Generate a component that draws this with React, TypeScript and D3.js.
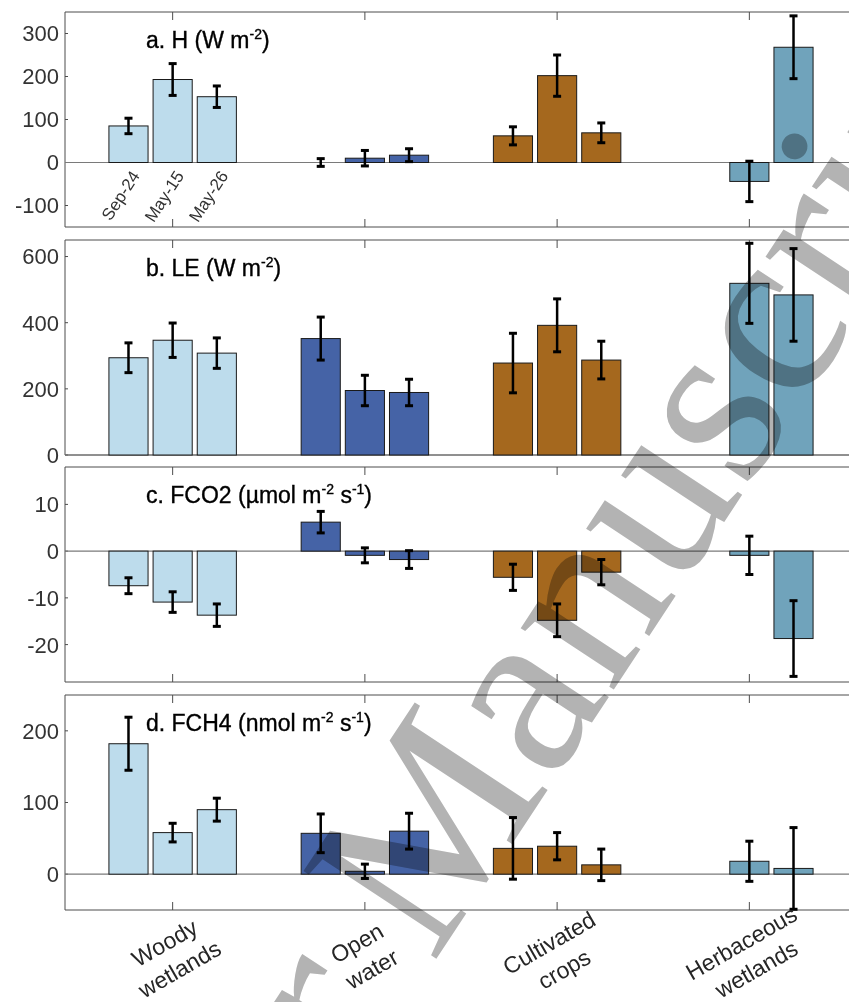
import React from "react";
import * as d3 from "d3";

// land covers (x groups) and sampling dates (bars inside a group)
const landCovers = ["Woody wetlands", "Open water", "Cultivated crops", "Herbaceous wetlands"];
const coverLines = [["Woody", "wetlands"], ["Open", "water"], ["Cultivated", "crops"], ["Herbaceous", "wetlands"]];
const dates = ["Sep-24", "May-15", "May-26"];
const coverColors = ["#bddcec", "#4563a6", "#a5681e", "#70a3bb"];

// a. H (W m-2), mean and error per land cover x date (null = no flight)
const hMean = [[85, 193, 153], [0, 10, 17], [62, 202, 69], [null, -44, 268]];
const hErr = [[18, 37, 25], [9, 18, 15], [21, 48, 23], [null, 47, 73]];
// b. LE (W m-2)
const leMean = [[294, 347, 308], [352, 195, 189], [278, 392, 287], [null, 519, 484]];
const leErr = [[45, 52, 46], [65, 46, 40], [90, 80, 57], [null, 121, 140]];
// c. FCO2 (umol m-2 s-1)
const co2Mean = [[-7.4, -10.9, -13.7], [6.2, -0.9, -1.8], [-5.6, -14.8, -4.5], [null, -0.9, -18.7]];
const co2Err = [[1.7, 2.2, 2.4], [2.3, 1.6, 1.9], [2.8, 3.5, 2.7], [null, 4.1, 8.1]];
// d. FCH4 (nmol m-2 s-1)
const ch4Mean = [[182, 58, 90], [57, 4, 60], [36, 39, 13], [null, 18, 8]];
const ch4Err = [[37, 13, 16], [27, 10, 25], [43, 19, 22], [null, 28, 57]];

const yTicksA = [-100, 0, 100, 200, 300];
const yTicksB = [0, 200, 400, 600];
const yTicksC = [-20, -10, 0, 10];
const yTicksD = [0, 100, 200];

const panels = [
  { main: "a. H (W m", sups: [["-2", ")"]], domain: [-150, 350], ticks: yTicksA, mean: hMean, err: hErr },
  { main: "b. LE (W m", sups: [["-2", ")"]], domain: [0, 650], ticks: yTicksB, mean: leMean, err: leErr },
  { main: "c. FCO2 (\u00b5mol m", sups: [["-2", " s"], ["-1", ")"]], domain: [-28, 18], ticks: yTicksC, mean: co2Mean, err: co2Err },
  { main: "d. FCH4 (nmol m", sups: [["-2", " s"], ["-1", ")"]], domain: [-50, 250], ticks: yTicksD, mean: ch4Mean, err: ch4Err },
];

const W = 849;
const H = 1002;
const left = 65;
const right = 857;
const panelTops = [12, 240, 467, 695];
const panelH = 215;
const font = "'Liberation Sans', Arial, Helvetica, sans-serif";
const axisColor = "#4d4d4d";

const x = d3.scaleLinear().domain([0.44, 4.56]).range([left, right]);
const offset = d3.scaleBand().domain(dates).range([-0.3315, 0.3315]).paddingInner(0.114);

function Panel({ p, i }) {
  const top = panelTops[i];
  const y = d3.scaleLinear().domain(p.domain).range([top + panelH, top]);
  const bw = x(offset.bandwidth()) - x(0);
  const cap = 4;
  return (
    <g>
      {/* axes box */}
      <line x1={left} x2={W} y1={top} y2={top} stroke={axisColor} strokeWidth={1} />
      <line x1={left} x2={W} y1={top + panelH} y2={top + panelH} stroke={axisColor} strokeWidth={1} />
      <line x1={left} x2={left} y1={top} y2={top + panelH} stroke={axisColor} strokeWidth={1} />
      {landCovers.map((c, k) => (
        <g key={c}>
          <line x1={x(k + 1)} x2={x(k + 1)} y1={top} y2={top + 8} stroke={axisColor} />
          <line x1={x(k + 1)} x2={x(k + 1)} y1={top + panelH} y2={top + panelH - 8} stroke={axisColor} />
        </g>
      ))}
      {p.ticks.map((t) => (
        <g key={t}>
          <line x1={left} x2={left + 3} y1={y(t)} y2={y(t)} stroke={axisColor} />
          <text x={59} y={y(t)} dy="0.36em" textAnchor="end" fontSize={22} fill="#333" fontFamily={font}>
            {t}
          </text>
        </g>
      ))}
      {/* zero line */}
      <line x1={left} x2={W} y1={y(0)} y2={y(0)} stroke="#7a7a7a" strokeWidth={1.2} />
      {/* bars */}
      {p.mean.map((row, k) =>
        row.map((v, j) => {
          if (v === null) return null;
          const cx = x(k + 1 + offset(dates[j]) + offset.bandwidth() / 2);
          return (
            <rect
              key={`${k}-${j}`}
              x={cx - bw / 2}
              width={bw}
              y={Math.min(y(v), y(0))}
              height={Math.abs(y(v) - y(0))}
              fill={coverColors[k]}
              stroke="#1a1a1a"
              strokeWidth={1}
            />
          );
        })
      )}
      {/* error bars */}
      {p.mean.map((row, k) =>
        row.map((v, j) => {
          if (v === null) return null;
          const e = p.err[k][j];
          const cx = x(k + 1 + offset(dates[j]) + offset.bandwidth() / 2);
          return (
            <g key={`e${k}-${j}`} stroke="#000">
              <line x1={cx} x2={cx} y1={y(v + e)} y2={y(v - e)} strokeWidth={2.5} />
              <line x1={cx - cap} x2={cx + cap} y1={y(v + e)} y2={y(v + e)} strokeWidth={3} />
              <line x1={cx - cap} x2={cx + cap} y1={y(v - e)} y2={y(v - e)} strokeWidth={3} />
            </g>
          );
        })
      )}
      <text x={146} y={top + 36} fontSize={23} fill="#000" stroke="#000" strokeWidth={0.35} fontFamily={font}>
        {p.main}
        {p.sups.map(([s, rest], n) => (
          <React.Fragment key={n}>
            <tspan dy={-9} fontSize={14}>{s}</tspan>
            <tspan dy={9}>{rest}</tspan>
          </React.Fragment>
        ))}
      </text>
      {i === 0 &&
        dates.map((d) => {
          const cx = x(1 + offset(d) + offset.bandwidth() / 2);
          return (
            <text
              key={d}
              transform={`translate(${cx + 7},${y(0) + 10}) rotate(-57)`}
              dy="0.35em"
              textAnchor="end"
              fontSize={17}
              fill="#333"
              fontFamily={font}
            >
              {d}
            </text>
          );
        })}
    </g>
  );
}

export default function App() {
  return (
    <svg width={W} height={H} style={{ position: "absolute", left: 0, top: 0, background: "#fff" }}>
      <rect width={W} height={H} fill="#fff" />
      {panels.map((p, i) => (
        <Panel key={i} p={p} i={i} />
      ))}
      {coverLines.map((lines, k) => (
        <g key={k}>
          <text transform={`translate(${x(k + 1) - 8},943) rotate(-30)`} dy="0.35em" textAnchor="middle" fontSize={23} fill="#262626" fontFamily={font}>
            {lines[0]}
          </text>
          <text transform={`translate(${x(k + 1) + 7},969) rotate(-30)`} dy="0.35em" textAnchor="middle" fontSize={23} fill="#262626" fontFamily={font}>
            {lines[1]}
          </text>
        </g>
      ))}
      {/* author manuscript watermark */}
      <text
        transform="translate(20,1590) rotate(-56.6)"
        fontSize={243}
        fontFamily="'Liberation Serif', 'Times New Roman', serif"
        fill="#b3b3b3"
        style={{ mixBlendMode: "multiply" }}
      >
        Author Manuscript
      </text>
    </svg>
  );
}
